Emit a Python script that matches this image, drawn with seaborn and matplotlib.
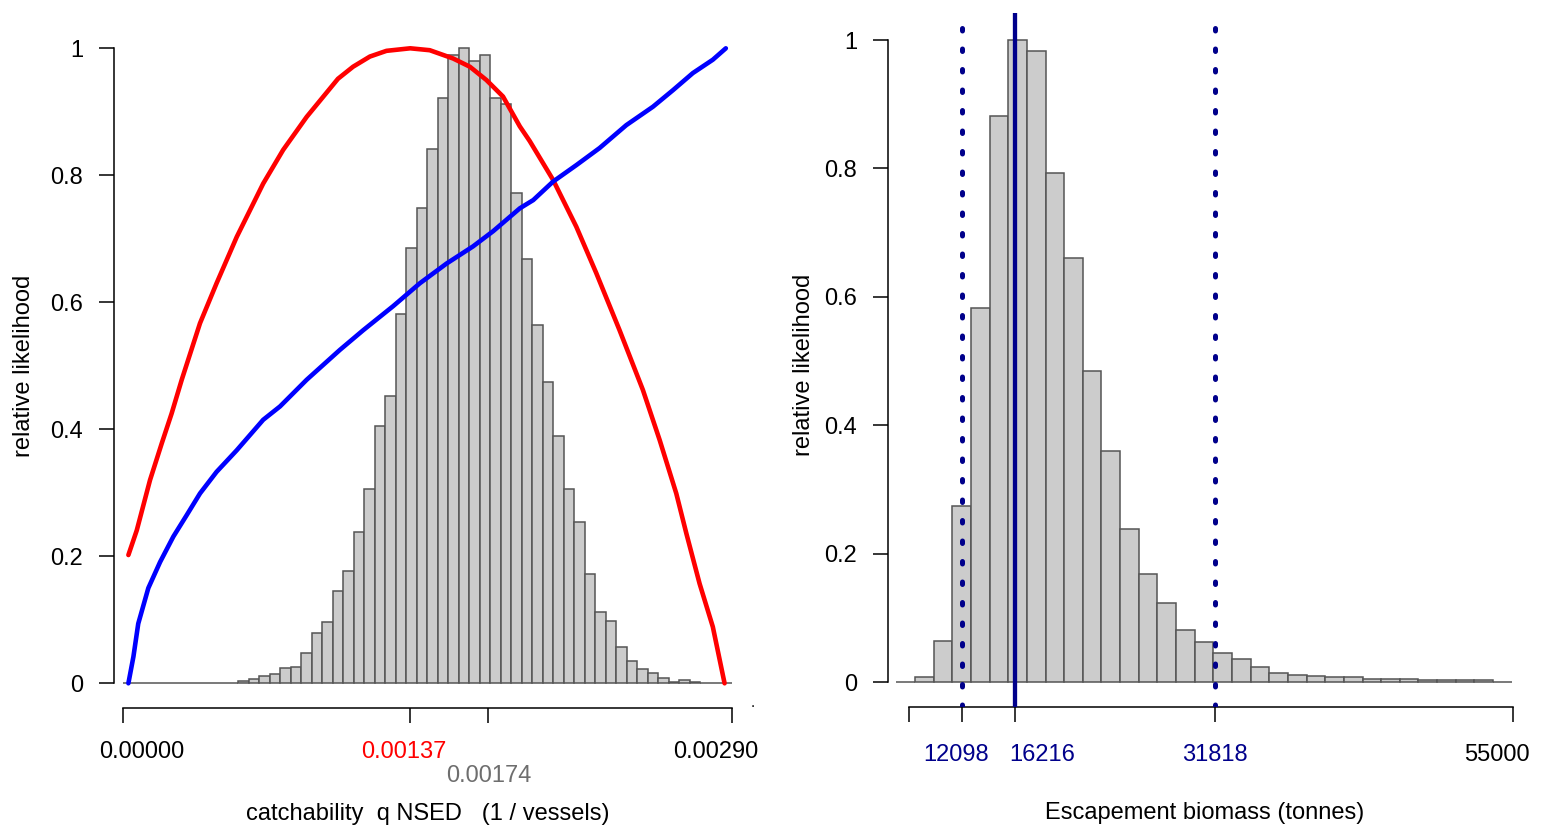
import numpy as np
import pandas as pd
import matplotlib
matplotlib.use("Agg")
import matplotlib.pyplot as plt
from matplotlib.transforms import ScaledTranslation
import seaborn as sns

# ---------------------------------------------------------------- data
# Catchability q: relative frequency in 0.00005-wide bins from 0 to 0.0029
q_bin_width = 0.00005
q_freq = [0] * 11 + [
    0.004, 0.0073, 0.012, 0.014, 0.0235, 0.026, 0.048, 0.079, 0.096, 0.145,
    0.177, 0.238, 0.306, 0.405, 0.453, 0.582, 0.685, 0.748, 0.841, 0.922,
    0.990, 1.000, 0.980, 0.990, 0.922, 0.913, 0.772, 0.668, 0.564, 0.475,
    0.390, 0.306, 0.254, 0.172, 0.112, 0.098, 0.057, 0.0355, 0.023, 0.0167,
    0.0089, 0.0016, 0.0047, 0.0026,
] + [0] * 3

# Relative likelihood profile of q (red)
lik_q = [0.000028, 0.000068, 0.000131, 0.000187, 0.000234, 0.000282, 0.000369,
         0.000448, 0.000544, 0.000670, 0.000765, 0.000877, 0.001026, 0.001098,
         0.001178, 0.001257, 0.001370, 0.001463, 0.001574, 0.001654, 0.001733,
         0.001812, 0.001892, 0.001939, 0.002050, 0.002161, 0.002256, 0.002367,
         0.002478, 0.002558, 0.002637, 0.002685, 0.002748, 0.002811, 0.002867]
lik_val = [0.202, 0.241, 0.320, 0.378, 0.425, 0.478, 0.567, 0.630, 0.703, 0.787,
           0.840, 0.892, 0.952, 0.971, 0.987, 0.996, 1.000, 0.997, 0.984, 0.971,
           0.950, 0.924, 0.877, 0.854, 0.793, 0.719, 0.646, 0.556, 0.462, 0.383,
           0.299, 0.236, 0.157, 0.089, 0.000]

# Cumulative curve of q (blue)
cum_q = [0.000028, 0.000052, 0.000075, 0.000123, 0.000179, 0.000242, 0.000306,
         0.000369, 0.000448, 0.000544, 0.000670, 0.000750, 0.000877, 0.001035,
         0.001146, 0.001289, 0.001416, 0.001543, 0.001669, 0.001765, 0.001892,
         0.001956, 0.002050, 0.002161, 0.002272, 0.002399, 0.002526, 0.002621,
         0.002716, 0.002811, 0.002873]
cum_val = [0.000, 0.042, 0.094, 0.150, 0.191, 0.231, 0.265, 0.299, 0.333, 0.367,
           0.415, 0.436, 0.478, 0.525, 0.556, 0.594, 0.630, 0.661, 0.688, 0.712,
           0.748, 0.761, 0.790, 0.816, 0.843, 0.879, 0.908, 0.934, 0.961, 0.982,
           1.000]

q_ticks = [0.0, 0.00137, 0.00174, 0.0029]
q_tick_labels = ["0.00000", "0.00137", "0.00174", "0.00290"]

# Escapement biomass (tonnes): relative frequency per bin
esc_bin_start = 6988
esc_bin_width = 1452
esc_freq = [0, 0.0073, 0.0645, 0.2746, 0.583, 0.882, 1.000, 0.983, 0.7925, 0.6605,
            0.4842, 0.3594, 0.2382, 0.1685, 0.1228, 0.0817, 0.0624, 0.0458, 0.0354,
            0.0234, 0.0146, 0.0115, 0.0094, 0.0073, 0.0073, 0.0052, 0.0052, 0.0052,
            0.0036, 0.0036, 0.0036, 0.0030, 0]

esc_lower, esc_median, esc_upper = 12098, 16216, 31818
esc_ticks = [8000, 12098, 16216, 31818, 55000]
esc_tick_labels = ["", "12098", "16216", "31818", "55000"]

y_ticks = [0, 0.2, 0.4, 0.6, 0.8, 1]
y_tick_labels = ["0", "0.2", "0.4", "0.6", "0.8", "1"]

# ---------------------------------------------------------------- style
sns.set_theme(style="white")
plt.rcParams["font.family"] = ["Liberation Sans", "DejaVu Sans"]
plt.rcParams["font.size"] = 17
for key in ("text.color", "axes.labelcolor", "xtick.color", "ytick.color"):
    plt.rcParams[key] = "black"

W, H, DPI = 1541, 827, 100
fig = plt.figure(figsize=(W / DPI, H / DPI), dpi=DPI)
fig.patch.set_facecolor("white")

BAR_FACE = "#cccccc"
BAR_EDGE = "#555555"
NAVY = "#00008b"


def place(ax, x0, y0, x1, y1):
    """Position an axes by its pixel box (origin top-left)."""
    ax.set_position([x0 / W, 1 - y1 / H, (x1 - x0) / W, (y1 - y0) / H])
    return (x0, y0, x1, y1)


def frac(box, px, py):
    x0, y0, x1, y1 = box
    return (px - x0) / (x1 - x0), (y1 - py) / (y1 - y0)


def shift_labels(ax, offsets, dy=None):
    labels = ax.get_xticklabels()
    for i, (lab, dx) in enumerate(zip(labels, offsets)):
        ddy = 0 if dy is None else dy[i]
        lab.set_transform(lab.get_transform() +
                          ScaledTranslation(dx / DPI, -ddy / DPI, fig.dpi_scale_trans))


def style_axes(ax):
    for s in ["top", "right"]:
        ax.spines[s].set_visible(False)
    for s in ["left", "bottom"]:
        ax.spines[s].set_color("black")
        ax.spines[s].set_linewidth(1.1)
    ax.tick_params(axis="both", direction="out", length=10.8, width=1.1,
                   color="black", labelsize=17, labelcolor="black",
                   bottom=True, left=True, top=False, right=False)
    ax.tick_params(axis="y", pad=11.5)
    ax.tick_params(axis="x", pad=12.9)
    ax.grid(False)
    ax.set_facecolor("white")


def weighted_hist(ax, edges, freq):
    df = pd.DataFrame({"mid": (edges[:-1] + edges[1:]) / 2, "freq": freq})
    sns.histplot(data=df, x="mid", weights="freq", bins=list(edges), ax=ax,
                 stat="count", color=BAR_FACE, edgecolor=BAR_EDGE,
                 linewidth=1.1, alpha=1.0)


# ---------------------------------------------------------------- left panel
axL = fig.add_axes([0, 0, 1, 1])
boxL = place(axL, 114, 20, 760, 708.3)

q_edges = np.arange(len(q_freq) + 1) * q_bin_width
weighted_hist(axL, q_edges, q_freq)
sns.lineplot(x=lik_q, y=lik_val, ax=axL, color="#ff0000", linewidth=3.3,
             sort=False, estimator=None, solid_capstyle="round",
             solid_joinstyle="round")
sns.lineplot(x=cum_q, y=cum_val, ax=axL, color="#0000ff", linewidth=3.3,
             sort=False, estimator=None, solid_capstyle="round",
             solid_joinstyle="round")

axL.set_xlim(-0.0000405, 0.0030357)
axL.set_ylim(-0.03937, 1.04457)
style_axes(axL)
axL.spines["left"].set_bounds(0, 1)
axL.spines["bottom"].set_bounds(q_ticks[0], q_ticks[-1])
axL.set_yticks(y_ticks, y_tick_labels)
axL.set_xticks(q_ticks, q_tick_labels)
qcolors = ["black", "#ff0000", "#6e6e6e", "black"]
for lab, c in zip(axL.get_xticklabels(), qcolors):
    lab.set_color(c)
shift_labels(axL, [19.5, -6, 1, -15.5], [0, 0, 24, 0])

axL.set_xlabel("catchability  q NSED   (1 / vessels)", fontsize=17)
axL.set_ylabel("relative likelihood", fontsize=17)
axL.xaxis.label.set_verticalalignment("center")
axL.yaxis.label.set_verticalalignment("center")
axL.xaxis.set_label_coords(*frac(boxL, 428, 814))
axL.yaxis.set_label_coords(*frac(boxL, 24, 366))

# stray point at the end of the q axis
fig.text(753 / W, 1 - 707 / H, ".", fontsize=11, ha="center", va="baseline")

# ---------------------------------------------------------------- right panel
axR = fig.add_axes([0, 0, 1, 1])
boxR = place(axR, 888, 13, 1535, 707)

esc_edges = esc_bin_start + np.arange(len(esc_freq) + 1) * esc_bin_width
weighted_hist(axR, esc_edges, esc_freq)

for v in (esc_lower, esc_upper):
    axR.axvline(v, color=NAVY, linewidth=3.6, linestyle=(0, (0.5, 3.6)),
                dash_capstyle="round", zorder=5)
axR.axvline(esc_median, color=NAVY, linewidth=3.1, zorder=5)

axR.set_xlim(6338, 56716)
axR.set_ylim(-0.0389, 1.0421)
style_axes(axR)
axR.spines["left"].set_bounds(0, 1)
axR.spines["bottom"].set_bounds(esc_ticks[0], esc_ticks[-1])
axR.set_yticks(y_ticks, y_tick_labels)
axR.set_xticks(esc_ticks, esc_tick_labels)
ecolors = ["black", NAVY, NAVY, NAVY, "black"]
for lab, c in zip(axR.get_xticklabels(), ecolors):
    lab.set_color(c)
shift_labels(axR, [0, -6, 27.5, 0, -16.5], [0, 4, 4, 4, 4])

axR.set_xlabel("Escapement biomass (tonnes)", fontsize=17)
axR.set_ylabel("relative likelihood", fontsize=17)
axR.xaxis.label.set_verticalalignment("center")
axR.yaxis.label.set_verticalalignment("center")
axR.xaxis.set_label_coords(*frac(boxR, 1205, 813))
axR.yaxis.set_label_coords(*frac(boxR, 804, 365))

fig.savefig("out.png", dpi=DPI, facecolor="white")
